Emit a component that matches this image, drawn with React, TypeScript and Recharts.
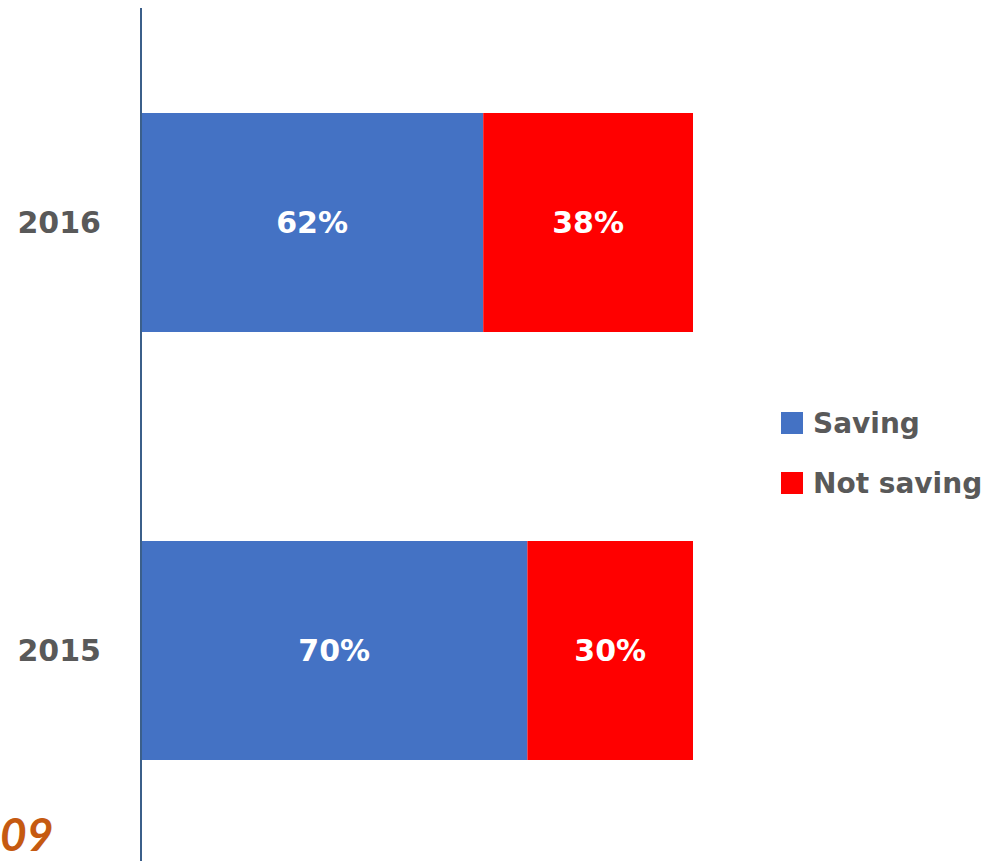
// Share of respondents saving vs. not saving, 2015 and 2016, as a 100% stacked bar.
import { Bar, BarChart, LabelList, XAxis, YAxis } from "recharts";

const years = ["2016", "2015"];
const saving = [62, 70];
const notSaving = [38, 30];

const BLUE = "#4472C4";
const RED = "#FF0000";
const GREY = "#595959";
const FONT = "'DejaVu Sans', sans-serif";

const data = years.map((year, i) => ({
  year,
  saving: saving[i],
  notSaving: notSaving[i],
}));

const legendItems = [
  { name: "Saving", color: BLUE },
  { name: "Not saving", color: RED },
];

// legend sits outside the svg so it doesn't eat into the plot area
function LegendBox() {
  return (
    <div
      style={{
        position: "absolute",
        left: 781,
        top: 393,
        fontFamily: FONT,
        fontWeight: "bold",
        fontSize: 28,
        color: GREY,
      }}
    >
      {legendItems.map(it => (
        <div key={it.name} style={{ display: "flex", alignItems: "center", height: 60 }}>
          <span
            style={{ width: 22, height: 22, background: it.color, display: "inline-block", marginRight: 10 }}
          />
          <span>{it.name}</span>
        </div>
      ))}
    </div>
  );
}

const labelStyle = { fill: "#fff", fontSize: 30, fontWeight: "bold", fontFamily: FONT };

export default function App() {
  return (
    <div style={{ position: "absolute", left: 0, top: 0, width: 994, height: 861, overflow: "hidden", background: "#fff" }}>
      <BarChart
        width={994}
        height={864}
        data={data}
        layout="vertical"
        barSize={219}
        margin={{ top: 8, right: 301, bottom: 0, left: 0 }}
      >
        <XAxis type="number" domain={[0, 100]} hide />
        <YAxis
          type="category"
          dataKey="year"
          width={141}
          axisLine={{ stroke: "#3B5F8A", strokeWidth: 2 }}
          tickLine={false}
          tickMargin={34}
          tick={{ fill: GREY, fontSize: 30, fontWeight: "bold", fontFamily: FONT }}
        />
        <Bar dataKey="saving" stackId="a" fill={BLUE} isAnimationActive={false}>
          <LabelList dataKey="saving" position="center" formatter={(v: number) => `${v}%`} style={labelStyle} />
        </Bar>
        <Bar dataKey="notSaving" stackId="a" fill={RED} isAnimationActive={false}>
          <LabelList dataKey="notSaving" position="center" formatter={(v: number) => `${v}%`} style={labelStyle} />
        </Bar>
      </BarChart>
      <LegendBox />
      <div
        style={{
          position: "absolute",
          left: 0,
          top: 806,
          fontFamily: "Lato, sans-serif",
          fontWeight: "bold",
          fontStyle: "italic",
          fontSize: 46,
          color: "#C55A11",
          lineHeight: "56px",
        }}
      >
        09
      </div>
    </div>
  );
}
